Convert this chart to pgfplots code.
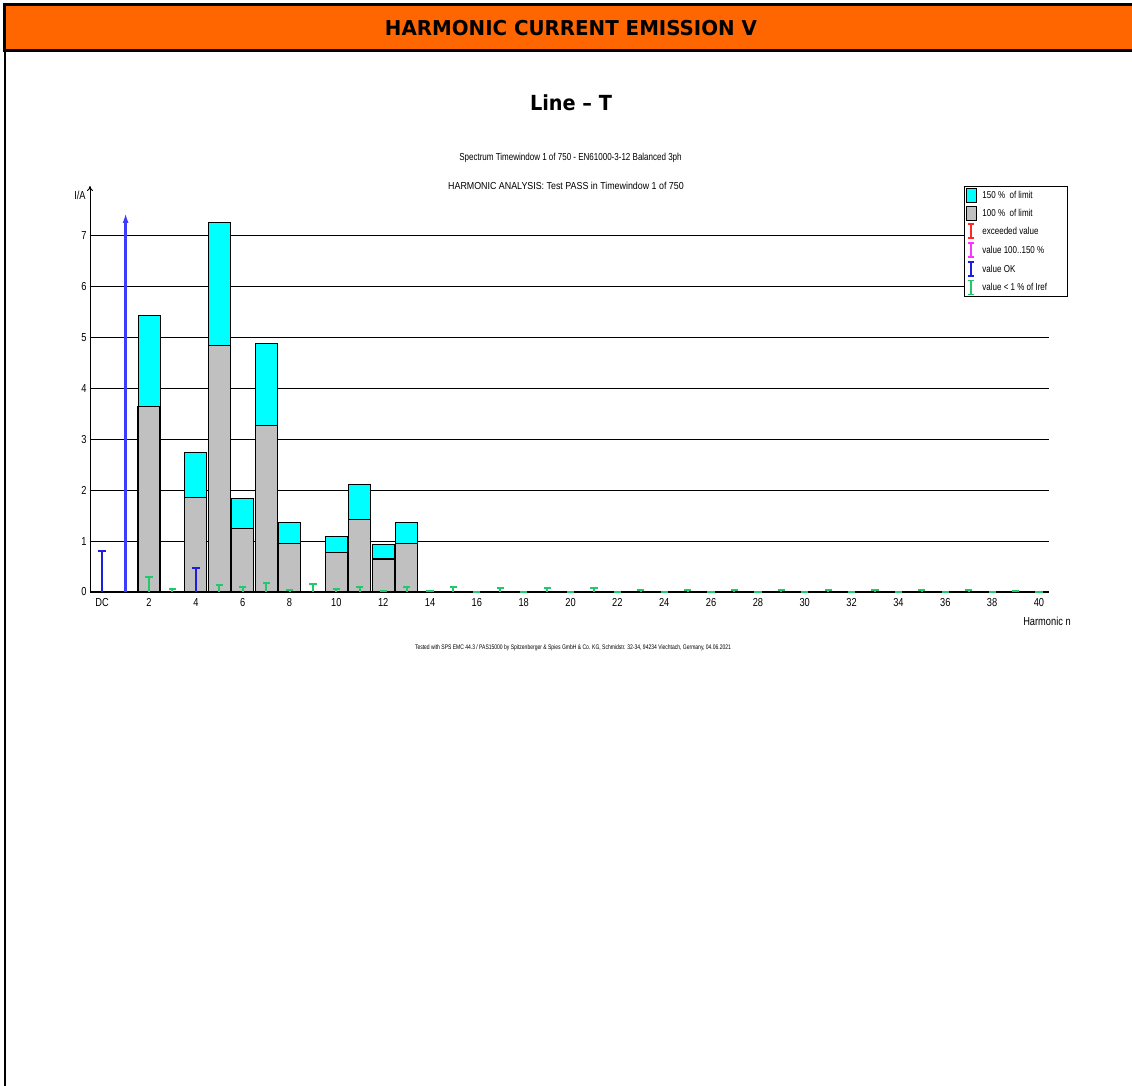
\documentclass[border=0pt]{standalone}
\usepackage{pgfplots}
\pgfplotsset{compat=1.18}
\usepackage{pgfplotstable}
\usepackage{fontspec}
\usetikzlibrary{arrows.meta}
\setmainfont{Liberation Sans}
\newfontfamily\nf[FakeStretch=0.8]{Liberation Sans}
\newfontfamily\hdfont{DejaVu Sans}
\definecolor{hdr}{RGB}{255,102,0}
\definecolor{lcyan}{RGB}{0,255,255}
\definecolor{lgray}{RGB}{192,192,192}
\definecolor{vgreen}{RGB}{34,200,110}
\definecolor{vblue}{RGB}{30,30,225}
\definecolor{ablue}{RGB}{60,60,255}
\definecolor{vred}{RGB}{255,40,40}
\definecolor{vmag}{RGB}{255,50,255}
\pgfplotstableread{
n  hi    lo
2  5.44  3.64
4  2.74  1.85
5  7.26  4.84
6  1.84  1.25
7  4.88  3.28
8  1.37  0.95
10 1.10  0.77
11 2.12  1.43
12 0.94  0.65
13 1.37  0.95
}\limits
\begin{document}
\begin{tikzpicture}
\useasboundingbox (0,0) rectangle (566pt,-543pt);
\begin{scope}[x=0.5pt,y=-0.5pt]
\fill[black] (3,3) rectangle (1132,52);
\fill[hdr] (6,6) rectangle (1132,49);
\fill[black] (4,3) rectangle (6,1086);
\node[anchor=base,inner sep=0pt] at (571,36) {\resizebox{186pt}{7.6pt}{\hdfont\bfseries HARMONIC CURRENT EMISSION V}};
\node[anchor=base,inner sep=0pt] at (571,111) {\resizebox{41pt}{7.9pt}{\hdfont\bfseries Line – T}};
\node[anchor=base,inner sep=0pt] at (570.5,160.7) {\resizebox{111.2pt}{3.67pt}{Spectrum Timewindow 1 of 750 - EN61000-3-12 Balanced 3ph}};
\node[anchor=base,inner sep=0pt] at (566,190) {\resizebox{117.8pt}{3.67pt}{HARMONIC ANALYSIS: Test PASS in Timewindow 1 of 750}};
\node[anchor=base,inner sep=0pt] at (573,649) {\resizebox{158pt}{2.4pt}{Tested with SPS EMC 44.3 / PAS15000 by Spitzenberger \& Spies GmbH \& Co. KG, Schmidstr. 32-34, 94234 Viechtach, Germany, 04.06.2021}};
\node[inner sep=0pt] at (80,195) {\nf\fontsize{5.8}{6}\selectfont I/A};
\node[inner sep=0pt] at (1047,621) {\nf\fontsize{5.8}{6}\selectfont Harmonic n};
\end{scope}
\begin{axis}[
  at={(45pt,-296pt)}, anchor=south west,
  scale only axis, width=479.5pt, height=203pt,
  xmin=-0.52, xmax=40.43, ymin=0, ymax=7.98,
  axis x line=bottom, axis y line=left,
  x axis line style={-, line width=0.5pt},
  y axis line style={-{To[length=2.5pt,width=3pt]}, line width=0.5pt},
  xtick={0,2,4,6,8,10,12,14,16,18,20,22,24,26,28,30,32,34,36,38,40},
  xticklabels={DC,2,4,6,8,10,12,14,16,18,20,22,24,26,28,30,32,34,36,38,40},
  ytick={0,1,2,3,4,5,6,7},
  major tick length=0pt,
  ymajorgrids, grid style={black, line width=0.6pt},
  tick label style={font=\nf\fontsize{5.8}{6}\selectfont},
  /pgf/number format/assume math mode=true,
  xticklabel style={inner sep=0pt, yshift=-3pt},
  yticklabel style={inner sep=0pt, xshift=-1.5pt},
  clip=false,
  legend style={at={(0.9114,1)}, anchor=north west, draw=black, fill=white,
    inner sep=0.6pt, row sep=1.4pt, column sep=3pt,
    font=\nf\fontsize{5}{6}\selectfont,
    nodes={inner sep=0pt, text height=5.4pt, text depth=2.1pt}},
  legend cell align=left,
]
\addplot[ybar, bar width=0.94, bar shift=0pt, fill=lcyan, draw=black, line width=0.5pt, forget plot] table[x=n,y=hi] {\limits};
\addplot[ybar, bar width=0.94, bar shift=0pt, fill=lgray, draw=black, line width=0.6pt, forget plot] table[x=n,y=lo] {\limits};
\addplot[ycomb, vgreen, line width=1pt, mark=-, mark size=1.8pt, forget plot] coordinates {
(2,0.30) (3,0.05) (5,0.14) (6,0.10) (7,0.18) (8,0.03) (9,0.16) (10,0.05) (11,0.10) (12,0.01) (13,0.10) (14,0.01)
(15,0.09) (16,0.005) (17,0.07) (18,0.005) (19,0.07) (20,0.005) (21,0.07) (22,0.005) (23,0.04) (24,0.005)
(25,0.04) (26,0.005) (27,0.04) (28,0.005) (29,0.04) (30,0.005) (31,0.04) (32,0.005) (33,0.04) (34,0.005)
(35,0.04) (36,0.005) (37,0.04) (38,0.005) (39,0.02) (40,0.005)};
\addplot[ycomb, vblue, line width=1pt, mark=-, mark size=2pt, forget plot] coordinates {(0,0.80) (4,0.48)};
\addplot[ablue, line width=1.2pt, -{Latex[length=5pt,width=3pt]}, forget plot] coordinates {(1,0) (1,7.45)};
\addlegendimage{legend image code/.code={\draw[fill=lcyan,draw=black] (0pt,-3.5pt) rectangle (5pt,3.5pt);}}
\addlegendentry{\makebox[42pt][l]{150 \%\ \ of limit}}
\addlegendimage{legend image code/.code={\draw[fill=lgray,draw=black] (0pt,-3.5pt) rectangle (5pt,3.5pt);}}
\addlegendentry{100 \%\ \ of limit}
\addlegendimage{legend image code/.code={\draw[vred,line width=1pt] (2.5pt,-3.5pt)--(2.5pt,3.5pt); \draw[vred,line width=0.8pt] (0.8pt,3.5pt)--(4.2pt,3.5pt) (0.8pt,-3.5pt)--(4.2pt,-3.5pt);}}
\addlegendentry{exceeded value}
\addlegendimage{legend image code/.code={\draw[vmag,line width=1pt] (2.5pt,-3.5pt)--(2.5pt,3.5pt); \draw[vmag,line width=0.8pt] (0.8pt,3.5pt)--(4.2pt,3.5pt) (0.8pt,-3.5pt)--(4.2pt,-3.5pt);}}
\addlegendentry{value 100..150 \%}
\addlegendimage{legend image code/.code={\draw[vblue,line width=1pt] (2.5pt,-3.5pt)--(2.5pt,3.5pt); \draw[vblue,line width=0.8pt] (0.8pt,3.5pt)--(4.2pt,3.5pt) (0.8pt,-3.5pt)--(4.2pt,-3.5pt);}}
\addlegendentry{value OK}
\addlegendimage{legend image code/.code={\draw[vgreen,line width=1pt] (2.5pt,-3.5pt)--(2.5pt,3.5pt); \draw[vgreen,line width=0.8pt] (0.8pt,3.5pt)--(4.2pt,3.5pt) (0.8pt,-3.5pt)--(4.2pt,-3.5pt);}}
\addlegendentry{value < 1 \% of Iref}
\end{axis}
\end{tikzpicture}
\end{document}
